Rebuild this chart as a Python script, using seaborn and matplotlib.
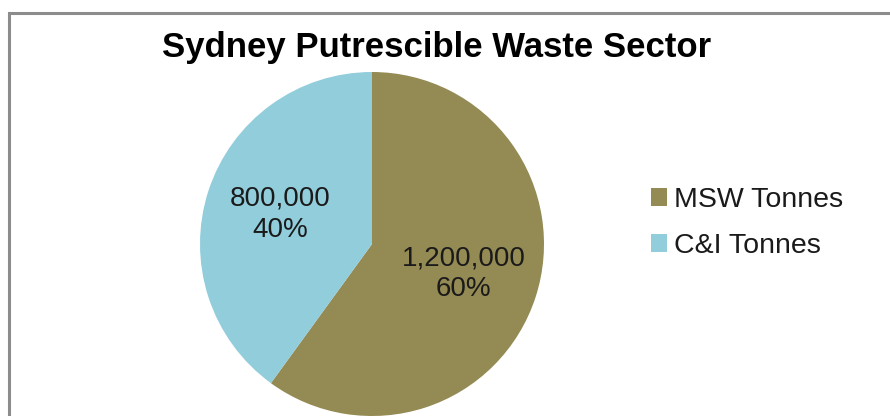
import matplotlib
matplotlib.use("Agg")
import matplotlib.pyplot as plt
import seaborn as sns
from matplotlib.patches import Rectangle

categories = ["MSW Tonnes", "C&I Tonnes"]
tonnes = [1200000, 800000]
colors = ["#948A54", "#92CDDC"]
title = "Sydney Putrescible Waste Sector"

sns.set_theme(style="white")
plt.rcParams['font.family'] = ['Liberation Sans', 'DejaVu Sans']

W, H = 890, 416
fig = plt.figure(figsize=(W / 100, H / 100), dpi=100)
fig.patch.set_facecolor("white")

# outer border
fig.patches.append(Rectangle((9 / W, -0.1), 1.2, (H - 13) / H + 0.1,
                             transform=fig.transFigure, fill=False,
                             edgecolor="#8c8c8c", linewidth=2.2))

cx, cy, r = 372, 244, 172
ax = fig.add_axes([(cx - r) / W, (H - cy - r) / H, 2 * r / W, 2 * r / H])
palette = sns.color_palette(colors)

total = sum(tonnes)

def fmt(p):
    v = p * total / 100
    return f"{v:,.0f}\n{p:.0f}%"

wedges, texts, autotexts = ax.pie(tonnes, colors=palette, startangle=90,
                                  counterclock=False, autopct=fmt,
                                  pctdistance=0.56, radius=1,
                                  wedgeprops=dict(linewidth=0),
                                  textprops=dict(fontsize=20, color="#1a1a1a",
                                                 linespacing=1.25))
ax.set_xlim(-1, 1)
ax.set_ylim(-1, 1)
ax.set_aspect("equal")
ax.axis("off")

fig.text(437 / W, 1 - 57 / H, title, ha="center", va="baseline",
         fontsize=25, fontweight="bold", color="black")

fig.legend(wedges, categories, loc="center left",
           bbox_to_anchor=(651 / W, 1 - 223 / H), frameon=False,
           fontsize=20.5, handlelength=0.56, handleheight=0.56,
           handletextpad=0.25, labelspacing=0.7, borderpad=0,
           borderaxespad=0, labelcolor="#1a1a1a")

fig.savefig("out.png", dpi=100)
